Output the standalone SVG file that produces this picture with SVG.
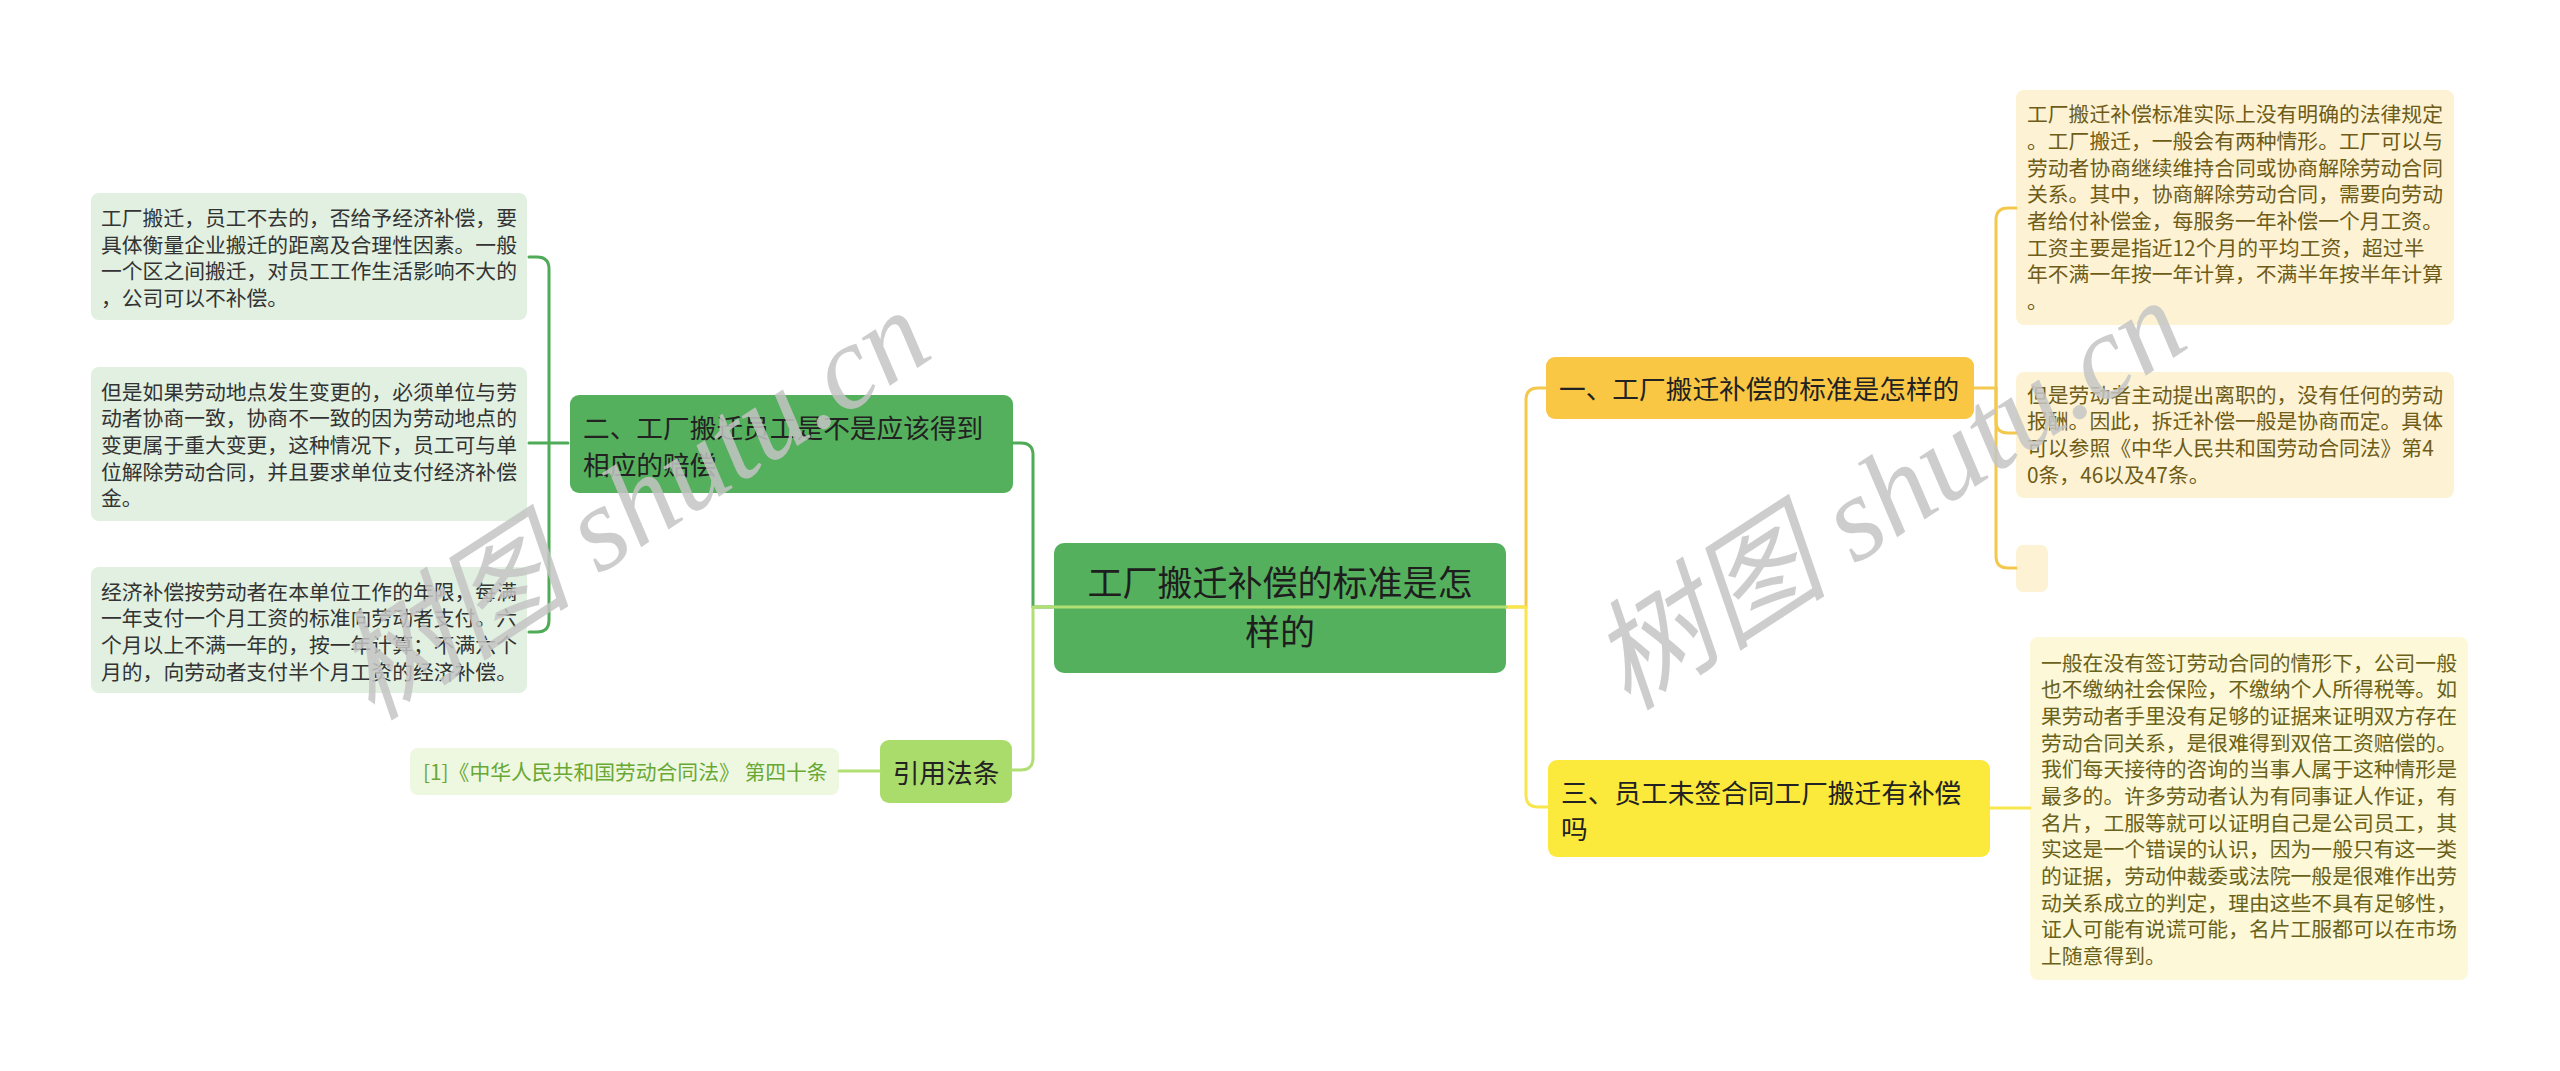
<svg xmlns="http://www.w3.org/2000/svg" width="2560" height="1071" viewBox="0 0 2560 1071">
<style>
text{font-family:"Noto Sans CJK SC","Noto Sans",sans-serif;}
.leafG{fill:#e1f0e1;}
.leafY{fill:#fdf3d4;}
.leafY2{fill:#fdf8d7;}
.t21{font-size:20.8px;fill:#333333;}
.tY{font-size:20.8px;fill:#6e5c18;}
.tY2{font-size:20.8px;fill:#6a621a;}
.t27{font-size:26.7px;fill:#222222;}
.c{fill:none;stroke-width:3;stroke-linecap:round;stroke-linejoin:round;}
.dg{stroke:#4fab57;}
.lg{stroke:#b2df74;}
.og{stroke:#f3c84c;}
.yl{stroke:#f7e64c;}
.wm{font-family:"Liberation Serif","Noto Sans CJK SC",serif;font-style:italic;font-size:120px;fill:#c4c4c4;fill-opacity:0.85;}
</style>
<rect width="2560" height="1071" fill="#ffffff"/>

<g id="leaf-left-1">
<rect class="leafG" x="91" y="193" width="436" height="127" rx="8"/>
<text class="t21" x="101" y="226">工厂搬迁，员工不去的，否给予经济补偿，要</text>
<text class="t21" x="101" y="253">具体衡量企业搬迁的距离及合理性因素。一般</text>
<text class="t21" x="101" y="279">一个区之间搬迁，对员工工作生活影响不大的</text>
<text class="t21" x="101" y="306">，公司可以不补偿。</text>
</g>
<g id="leaf-left-2">
<rect class="leafG" x="91" y="367" width="436" height="154" rx="8"/>
<text class="t21" x="101" y="400">但是如果劳动地点发生变更的，必须单位与劳</text>
<text class="t21" x="101" y="426">动者协商一致，协商不一致的因为劳动地点的</text>
<text class="t21" x="101" y="453">变更属于重大变更，这种情况下，员工可与单</text>
<text class="t21" x="101" y="480">位解除劳动合同，并且要求单位支付经济补偿</text>
<text class="t21" x="101" y="506">金。</text>
</g>
<g id="leaf-left-3">
<rect class="leafG" x="91" y="567" width="436" height="126" rx="8"/>
<text class="t21" x="101" y="600">经济补偿按劳动者在本单位工作的年限，每满</text>
<text class="t21" x="101" y="626">一年支付一个月工资的标准向劳动者支付。六</text>
<text class="t21" x="101" y="653">个月以上不满一年的，按一年计算；不满六个</text>
<text class="t21" x="101" y="680">月的，向劳动者支付半个月工资的经济补偿。</text>
</g>
<g id="citation">
<rect x="410" y="748" width="429" height="47" rx="8" fill="#eef8e1"/>
<text x="423" y="780" style="font-size:20.8px;fill:#6aa834">[1]《中华人民共和国劳动合同法》 第四十条</text>
</g>
<g id="node-two">
<rect x="570" y="395" width="443" height="98" rx="9" fill="#55b05d"/>
<text class="t27" x="583" y="438">二、工厂搬迁员工是不是应该得到</text>
<text class="t27" x="583" y="475">相应的赔偿</text>
</g>
<g id="node-cite">
<rect x="880" y="740" width="132" height="63" rx="9" fill="#a9dc6b"/>
<text class="t27" x="946" y="783" text-anchor="middle">引用法条</text>
</g>
<g id="center">
<rect x="1054" y="543" width="452" height="130" rx="10" fill="#55b05d"/>
<text x="1280" y="596" text-anchor="middle" style="font-size:35px;fill:#1e1e1e">工厂搬迁补偿的标准是怎</text>
<text x="1280" y="645" text-anchor="middle" style="font-size:35px;fill:#1e1e1e">样的</text>
</g>
<g id="node-one">
<rect x="1546" y="357" width="428" height="62" rx="9" fill="#f9c744"/>
<text class="t27" x="1559" y="399">一、工厂搬迁补偿的标准是怎样的</text>
</g>
<g id="node-three">
<rect x="1548" y="760" width="442" height="97" rx="9" fill="#fbe93b"/>
<text class="t27" x="1561" y="803">三、员工未签合同工厂搬迁有补偿</text>
<text class="t27" x="1561" y="839">吗</text>
</g>
<g id="leaf-right-a">
<rect class="leafY" x="2016" y="90" width="438" height="235" rx="8"/>
<text class="tY" x="2027" y="122">工厂搬迁补偿标准实际上没有明确的法律规定</text>
<text class="tY" x="2027" y="149">。工厂搬迁，一般会有两种情形。工厂可以与</text>
<text class="tY" x="2027" y="176">劳动者协商继续维持合同或协商解除劳动合同</text>
<text class="tY" x="2027" y="202">关系。其中，协商解除劳动合同，需要向劳动</text>
<text class="tY" x="2027" y="229">者给付补偿金，每服务一年补偿一个月工资。</text>
<text class="tY" x="2027" y="256">工资主要是指近12个月的平均工资，超过半</text>
<text class="tY" x="2027" y="282">年不满一年按一年计算，不满半年按半年计算</text>
<text class="tY" x="2027" y="309">。</text>
</g>
<g id="leaf-right-b">
<rect class="leafY" x="2016" y="372" width="438" height="126" rx="8"/>
<text class="tY" x="2027" y="403">但是劳动者主动提出离职的，没有任何的劳动</text>
<text class="tY" x="2027" y="429">报酬。因此，拆迁补偿一般是协商而定。具体</text>
<text class="tY" x="2027" y="456">可以参照《中华人民共和国劳动合同法》第4</text>
<text class="tY" x="2027" y="483">0条，46以及47条。</text>
</g>
<g id="leaf-right-c">
<rect class="leafY" x="2016" y="545" width="32" height="47" rx="7"/>
</g>
<g id="leaf-right-d">
<rect class="leafY2" x="2030" y="637" width="438" height="343" rx="8"/>
<text class="tY2" x="2041" y="671">一般在没有签订劳动合同的情形下，公司一般</text>
<text class="tY2" x="2041" y="697">也不缴纳社会保险，不缴纳个人所得税等。如</text>
<text class="tY2" x="2041" y="724">果劳动者手里没有足够的证据来证明双方存在</text>
<text class="tY2" x="2041" y="751">劳动合同关系，是很难得到双倍工资赔偿的。</text>
<text class="tY2" x="2041" y="777">我们每天接待的咨询的当事人属于这种情形是</text>
<text class="tY2" x="2041" y="804">最多的。许多劳动者认为有同事证人作证，有</text>
<text class="tY2" x="2041" y="831">名片，工服等就可以证明自己是公司员工，其</text>
<text class="tY2" x="2041" y="857">实这是一个错误的认识，因为一般只有这一类</text>
<text class="tY2" x="2041" y="884">的证据，劳动仲裁委或法院一般是很难作出劳</text>
<text class="tY2" x="2041" y="911">动关系成立的判定，理由这些不具有足够性，</text>
<text class="tY2" x="2041" y="937">证人可能有说谎可能，名片工服都可以在市场</text>
<text class="tY2" x="2041" y="964">上随意得到。</text>
</g>

<g id="connectors">
<path class="c dg" d="M1053 607 H1033 V455 Q1033 443 1021 443 H1013"/>
<path class="c dg" d="M568 443 H529"/>
<path class="c dg" d="M549 443 V269 Q549 257 537 257 H529"/>
<path class="c dg" d="M549 443 V620 Q549 632 537 632 H529"/>
<path class="c og" d="M1506 607 H1526 V400 Q1526 388 1538 388 H1546"/>
<path class="c og" d="M1974 388 H1996"/>
<path class="c og" d="M1996 388 V220 Q1996 208 2008 208 H2016"/>
<path class="c og" d="M1996 388 V421 Q1996 433 2008 433 H2016"/>
<path class="c og" d="M1996 388 V556 Q1996 568 2008 568 H2016"/>
<path class="c yl" d="M1506 607 H1526 V795 Q1526 807 1538 807 H1548"/>
<path class="c yl" d="M1990 808 H2030"/>
<path class="c lg" d="M1506 607 H1033 V758 Q1033 770 1021 770 H1012"/>
<path class="c lg" d="M880 771 H839"/>
</g>

<g id="watermark">
<text class="wm" transform="translate(372 722) rotate(-33)">树图 shutu.cn</text>
<text class="wm" transform="translate(1628 712) rotate(-33)">树图 shutu.cn</text>
</g>
</svg>
